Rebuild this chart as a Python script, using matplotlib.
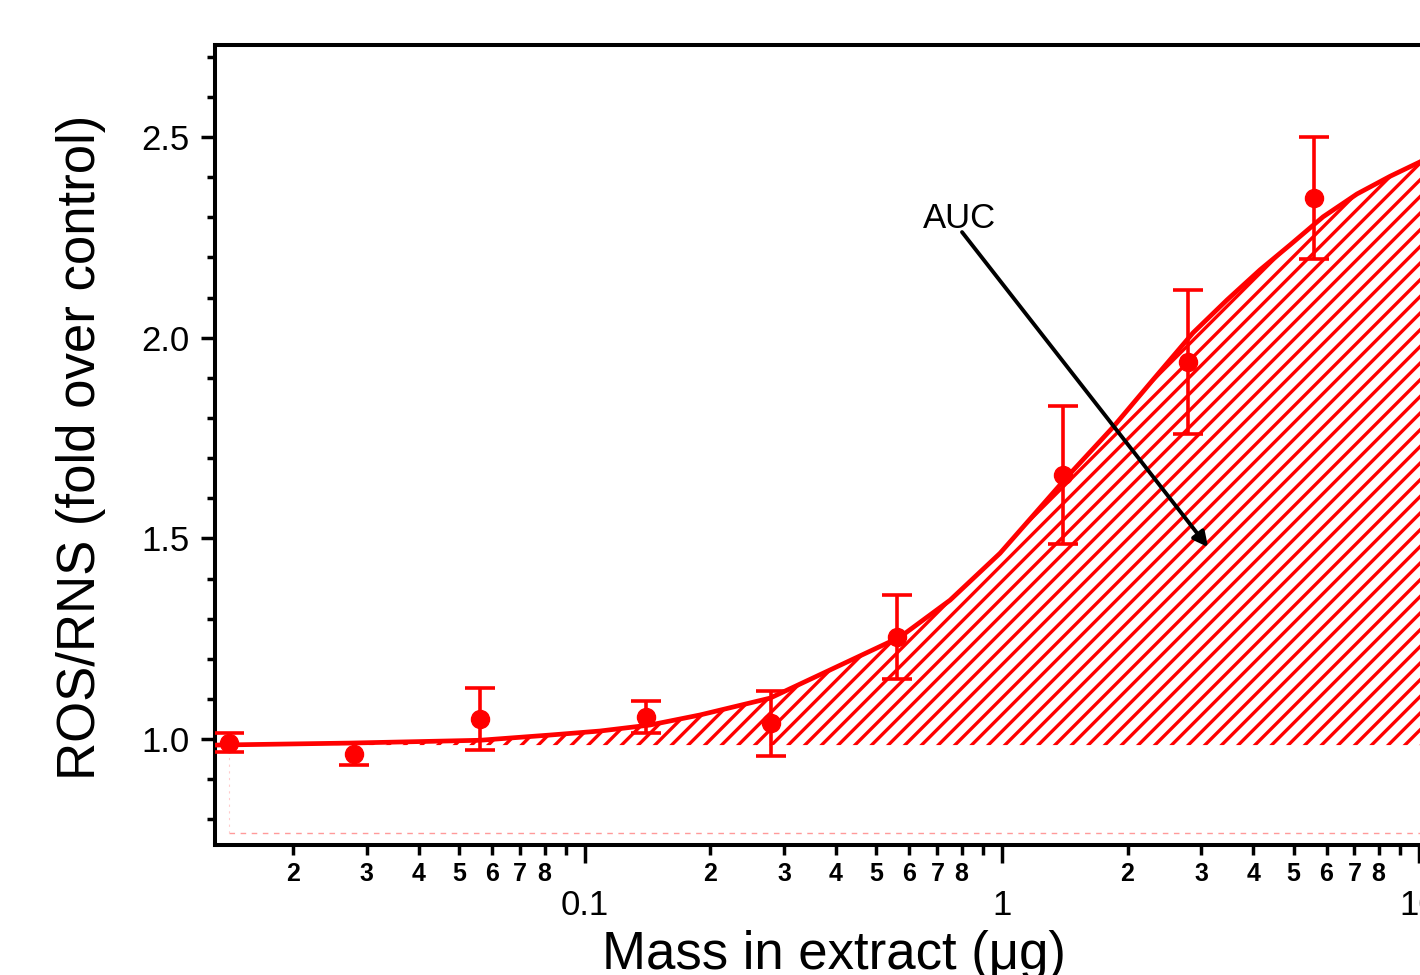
import matplotlib
matplotlib.use("Agg")
import matplotlib.pyplot as plt
from matplotlib.ticker import LogLocator, FixedLocator, FuncFormatter, MultipleLocator

plt.rcParams['font.family'] = ['Liberation Sans', 'DejaVu Sans']
plt.rcParams['hatch.linewidth'] = 2.4

# measured points (mean +/- error)
mass = [0.014, 0.028, 0.056, 0.14, 0.28, 0.56, 1.4, 2.8, 5.6]
ros = [0.991, 0.963, 1.049, 1.056, 1.039, 1.255, 1.658, 1.940, 2.347]
ros_err = [0.023, 0.027, 0.077, 0.040, 0.081, 0.105, 0.173, 0.179, 0.152]

# fitted curve
fit_x = [0.01297, 0.0273, 0.056, 0.0824, 0.1086, 0.1432, 0.1887, 0.2779,
         0.5694, 0.7506, 0.9893, 1.432, 1.846, 2.302, 2.871, 3.464, 4.157,
         4.905, 5.886, 7.100, 8.521, 10.06, 12.5]
fit_y = [0.985, 0.990, 0.997, 1.010, 1.020, 1.035, 1.060, 1.102,
         1.254, 1.346, 1.463, 1.653, 1.777, 1.895, 2.012, 2.094, 2.169,
         2.231, 2.301, 2.358, 2.402, 2.438, 2.50]
baseline = 0.985
lower_ref = 0.766

fig = plt.figure(figsize=(14.2, 9.75), dpi=100)
# axes runs past the right edge of the figure, like the cropped original
ax = fig.add_axes([0.1514, 0.1333, 0.8768, 0.8205])
ax.set_xscale('log')
ax.set_xlim(0.01297, 12.54)
ax.set_ylim(0.736, 2.729)

# hatched area under curve
ax.fill_between(fit_x, baseline, fit_y, facecolor='none', edgecolor='red',
                hatch='//', linewidth=0, zorder=1)
ax.plot(fit_x, fit_y, color='red', lw=3.4, zorder=3, solid_joinstyle='round')

# faint reference lines
ax.plot([mass[0], 20], [lower_ref, lower_ref], color='#ff9a9a', lw=1.0,
        dashes=(4, 4), zorder=0)
ax.plot([mass[0], mass[0]], [lower_ref, baseline], color='#ffcccc', lw=0.8,
        dashes=(2, 4), zorder=0)

ax.errorbar(mass, ros, yerr=ros_err, fmt='o', color='red', ms=13,
            elinewidth=2.6, capsize=11, capthick=2.6, zorder=4)

# AUC annotation
ax.text(0.791, 2.273, 'AUC', fontsize=25, ha='center', va='baseline')
ax.annotate('', xy=(3.12, 1.478), xytext=(0.802, 2.263),
            arrowprops=dict(arrowstyle='-|>', color='black', lw=2.8,
                            mutation_scale=22, shrinkA=0, shrinkB=0))

# spines
for side in ['left', 'bottom', 'top']:
    ax.spines[side].set_linewidth(2.9)
ax.spines['right'].set_visible(False)

# y ticks
ax.yaxis.set_major_locator(FixedLocator([1.0, 1.5, 2.0, 2.5]))
ax.yaxis.set_major_formatter(FuncFormatter(lambda v, p: f'{v:.1f}'))
ax.yaxis.set_minor_locator(MultipleLocator(0.1))
ax.tick_params(axis='y', which='major', direction='out', length=10, width=2.5,
               labelsize=25, pad=8)
ax.tick_params(axis='y', which='minor', direction='out', length=6, width=2.5)

# x ticks
ax.xaxis.set_major_locator(LogLocator(base=10))
ax.xaxis.set_major_formatter(FuncFormatter(lambda v, p: f'{v:g}'))
ax.xaxis.set_minor_locator(LogLocator(base=10, subs=range(2, 10)))


def minor_label(v, pos):
    lead = round(v / 10 ** int(f'{v:e}'.split('e')[1]))
    return str(lead) if lead <= 8 else ''


ax.xaxis.set_minor_formatter(FuncFormatter(minor_label))
ax.tick_params(axis='x', which='major', direction='out', length=13, width=2.5,
               labelsize=25, pad=19)
ax.tick_params(axis='x', which='minor', direction='out', length=7, width=2.5,
               labelsize=18, pad=5)
for lab in ax.xaxis.get_minorticklabels():
    lab.set_fontweight('bold')

ax.tick_params(top=False, right=False)

fig.text(81 / 1420, 1 - 447 / 975, 'ROS/RNS (fold over control)', fontsize=38,
         rotation=90, ha='center', va='center')
fig.text(834 / 1420, 1 - 930 / 975, 'Mass in extract (μg)', fontsize=38,
         ha='center', va='top')

fig.savefig('out.png', dpi=100)
